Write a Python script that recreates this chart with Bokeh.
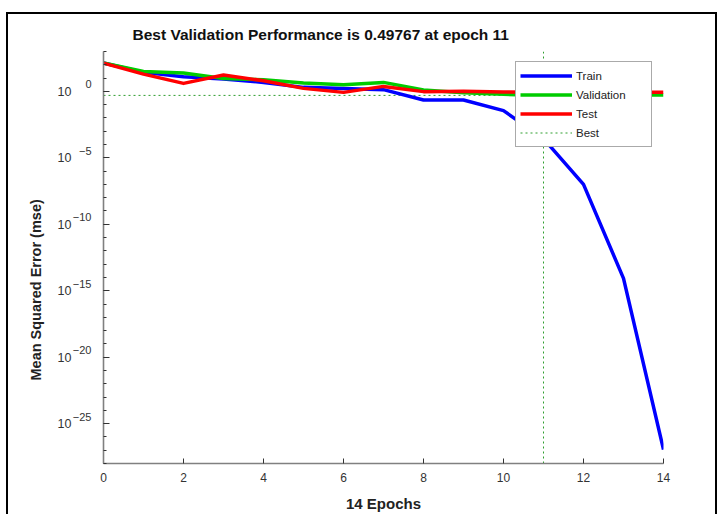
import math
from bokeh.plotting import figure
from bokeh.models import (Range1d, FixedTicker, Legend, LegendItem, ColumnDataSource,
                          CustomJSTickFormatter, LinearAxis, LinearScale, Title)
from bokeh.embed import file_html
from bokeh.resources import INLINE

# ---------------- data ----------------
epochs = list(range(15))
train_mse = [134.9, 26.9, 12.6, 8.51, 4.73, 2.0, 1.68, 1.35, 0.224, 0.224,
             0.0355, 2.8e-4, 1.0e-7, 8.5e-15, 1.1e-27]
val_mse = [134.9, 31.6, 24.0, 9.33, 7.59, 4.27, 3.16, 4.73, 1.26, 0.794,
           0.603, 0.49767, 0.513, 0.525, 0.537]
test_mse = [134.9, 19.95, 3.98, 17.0, 6.31, 1.68, 0.841, 2.37, 0.955, 1.0,
            0.891, 0.871, 0.851, 0.851, 0.841]
best_epoch = 11
best_perf = 0.49767
x_ticks = [0, 2, 4, 6, 8, 10, 12, 14]
y_label_exponents = [0, -5, -10, -15, -20, -25]
y_minor_exponents = list(range(-28, 4))
y_min_exp, y_max_exp = -28, 3
x_min, x_max = 0, 14

title_text = "Best Validation Performance is 0.49767 at epoch 11"
x_label_text = "14 Epochs"
y_label_text = "Mean Squared Error  (mse)"

FONT = "Liberation Sans"
TXT = "#333333"

y_min, y_max = 10.0 ** y_min_exp, 10.0 ** y_max_exp

p = figure(width=711, height=502, y_axis_type="log",
           x_range=Range1d(x_min, x_max), y_range=Range1d(y_min, y_max),
           output_backend="svg", toolbar_location=None,
           min_border_left=95, min_border_right=56,
           min_border_top=37, min_border_bottom=53)
p.margin = (12, 0, 0, 6)
p.styles = {"border-left": "2px solid black", "border-top": "2px solid black",
            "border-right": "2px solid black"}

p.title.text = title_text
p.title.align = "left"
p.title.vertical_align = "middle"
p.title.offset = 29
p.title.text_font = FONT
p.title.text_font_style = "bold"
p.title.text_font_size = "15.5px"
p.title.text_color = "#111111"
p.title.standoff = 15
p.outline_line_color = None
p.xgrid.visible = False
p.ygrid.visible = False
p.background_fill_color = "white"
p.border_fill_color = "white"

# x axis
xa = p.xaxis[0]
xa.ticker = FixedTicker(ticks=x_ticks)
xa.axis_line_color = "#808080"
xa.axis_line_width = 1.6
xa.major_tick_line_color = "#333333"
xa.major_tick_in = 5
xa.major_tick_out = 0
xa.minor_tick_in = 0
xa.minor_tick_out = 0
xa.major_label_text_font = FONT
xa.major_label_text_font_size = "12px"
xa.major_label_text_color = TXT
xa.major_label_standoff = 9
xa.axis_label = x_label_text
xa.axis_label_text_font = FONT
xa.axis_label_text_font_style = "bold"
xa.axis_label_text_font_size = "15px"
xa.axis_label_text_color = "#222222"
xa.axis_label_standoff = 10

# main y axis: line and ticks only
ya = p.yaxis[0]
ya.ticker = FixedTicker(ticks=[10.0 ** e for e in y_label_exponents],
                        minor_ticks=[10.0 ** e for e in y_minor_exponents])
ya.formatter = CustomJSTickFormatter(code="return ''")
ya.major_label_text_font_size = "0px"
ya.major_label_standoff = 0
ya.axis_line_color = "#808080"
ya.axis_line_width = 1.6
ya.major_tick_line_color = "#333333"
ya.minor_tick_line_color = "#333333"
ya.major_tick_in = 6
ya.major_tick_out = 0
ya.minor_tick_in = 3
ya.minor_tick_out = 0

# tick labels "10" with raised exponent, drawn by two extra axes
raise_decades = 0.525
p.extra_y_ranges = {
    "exp": Range1d(y_min_exp - raise_decades, y_max_exp - raise_decades),
    "ten": Range1d(y_min_exp, y_max_exp),
}
p.extra_y_scales = {"exp": LinearScale(), "ten": LinearScale()}

def label_axis(range_name, size, standoff, formatter=None):
    ax = LinearAxis(y_range_name=range_name, ticker=FixedTicker(ticks=y_label_exponents))
    if formatter is not None:
        ax.formatter = formatter
    ax.axis_line_color = None
    ax.major_tick_line_color = None
    ax.minor_tick_line_color = None
    ax.major_tick_in = 0
    ax.major_tick_out = 0
    ax.minor_tick_in = 0
    ax.minor_tick_out = 0
    ax.major_label_standoff = standoff
    ax.major_label_text_font = FONT
    ax.major_label_text_font_size = size
    ax.major_label_text_color = TXT
    return ax

p.add_layout(label_axis("exp", "11px", 12), "left")
p.add_layout(label_axis("ten", "12.5px", -2, CustomJSTickFormatter(code="return '10'")), "left")

p.add_layout(Title(text=y_label_text, align="left", offset=83, standoff=22,
                   text_font=FONT, text_font_style="bold", text_font_size="14.5px",
                   text_color="#222222"), "left")

# best lines
best_style = dict(line_color="#2e9e2e", line_width=1, line_dash="2 3")
r_best_v = p.line(x=[best_epoch, best_epoch], y=[y_min, y_max], **best_style)
r_best = p.line(x=[x_min, x_max], y=[best_perf, best_perf], **best_style)

src = ColumnDataSource(dict(epoch=epochs, train=train_mse, val=val_mse, test=test_mse))
lw = 3.5
r_train = p.line("epoch", "train", source=src, line_color="#0000ff", line_width=lw, line_join="round")
r_val = p.line("epoch", "val", source=src, line_color="#00cc00", line_width=lw, line_join="round")
r_test = p.line("epoch", "test", source=src, line_color="#ff0000", line_width=lw, line_join="round")

legend = Legend(items=[LegendItem(label="Train", renderers=[r_train]),
                       LegendItem(label="Validation", renderers=[r_val]),
                       LegendItem(label="Test", renderers=[r_test]),
                       LegendItem(label="Best", renderers=[r_best])],
                location=(412, 316), margin=0, padding=4, spacing=0,
                glyph_width=52, glyph_height=19, label_height=19,
                label_width=71, label_standoff=4,
                border_line_color="#555555", border_line_width=1.5,
                background_fill_color="white", background_fill_alpha=1.0,
                label_text_font=FONT, label_text_font_size="11.5px",
                label_text_color="#222222")
p.add_layout(legend)

open("out.html", "w").write(file_html(p, INLINE))
